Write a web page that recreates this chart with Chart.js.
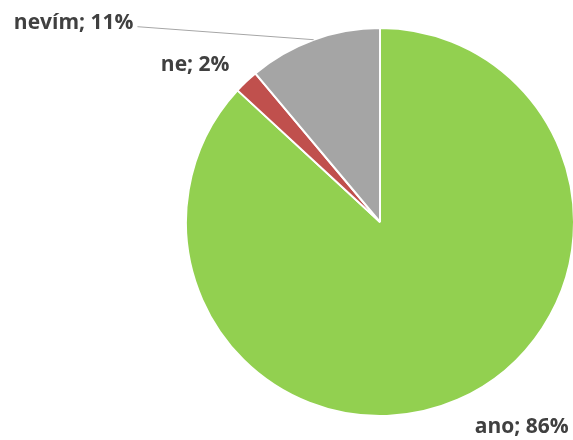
<!DOCTYPE html>
<html>
<head>
<meta charset="utf-8">
<script src="https://cdn.jsdelivr.net/npm/chart.js@4"></script>
<style>
  html, body { margin: 0; padding: 0; background: #fff; }
  #wrap { width: 573px; height: 440px; position: relative; }
</style>
</head>
<body>
<div id="wrap"><canvas id="myChart"></canvas></div>
<script>
var categories = ['ano', 'ne', 'nevím']
var values = [86, 2, 11]
var colors = ['#92D050', '#C0504D', '#A5A5A5']

// label offsets from the outer middle of each slice (x, baseline y)
var labelOffsets = [[64, 33], [-51, -11], [-240, -11]]

var pieLabels = {
    id: 'pieLabels',
    afterDatasetsDraw: function(chart) {
        var c = chart.ctx
        var arcs = chart.getDatasetMeta(0).data
        c.save()
        c.font = 'bold 21px "Open Sans"'
        c.fillStyle = '#404040'
        c.textAlign = 'center'
        c.textBaseline = 'alphabetic'
        for (var i = 0; i < arcs.length; i++) {
            var a = arcs[i]
            var mid = (a.startAngle + a.endAngle) / 2
            var px = a.x + Math.cos(mid) * a.outerRadius
            var py = a.y + Math.sin(mid) * a.outerRadius
            var lx = px + labelOffsets[i][0]
            var ly = py + labelOffsets[i][1]
            var text = categories[i] + '; ' + values[i] + '%'
            c.fillText(text, lx, ly)
            if (i == 2) {
                // leader line for the label placed away from its slice
                var w = c.measureText(text).width
                c.strokeStyle = '#A6A6A6'
                c.lineWidth = 1
                c.beginPath()
                c.moveTo(lx + w / 2 + 4, ly - 2)
                c.lineTo(px, py)
                c.stroke()
            }
        }
        c.restore()
    }
}

var ctx = document.querySelector('#myChart').getContext('2d')
var myChart = new Chart(ctx, {
    type: 'pie',
    data: {
        labels: categories,
        datasets: [{
            data: values,
            backgroundColor: colors,
            borderColor: '#ffffff',
            borderWidth: 2,
            radius: 194
        }]
    },
    options: {
        responsive: true,
        maintainAspectRatio: false,
        animation: false,
        layout: { padding: { left: 187, right: 0, top: 29, bottom: 25 } },
        plugins: {
            legend: { display: false },
            tooltip: { enabled: false }
        }
    },
    plugins: [pieLabels]
})
</script>
</body>
</html>
